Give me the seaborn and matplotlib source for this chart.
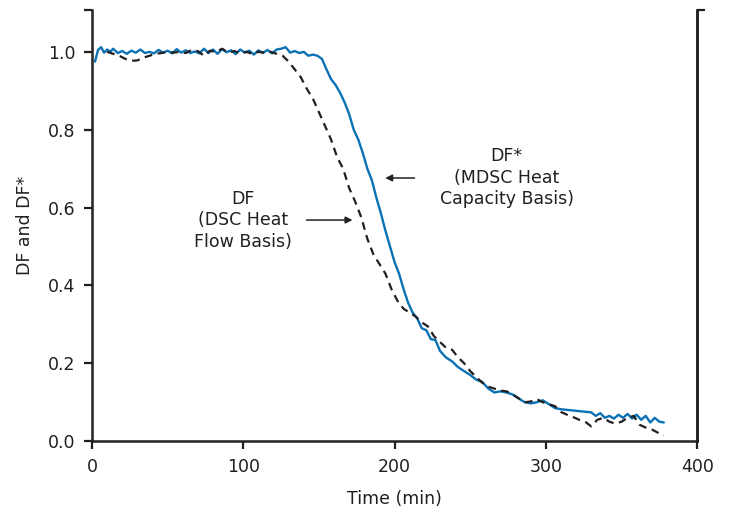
import matplotlib
matplotlib.use("Agg")
import matplotlib.pyplot as plt
import numpy as np
import pandas as pd
import seaborn as sns

### Data
# DF* (MDSC heat capacity basis), blue solid
t_mdsc = [2, 4, 6, 8, 10, 12, 14, 17, 20, 23, 26, 29, 32, 35, 38, 41, 44, 47, 50, 53,
          56, 59, 62, 65, 68, 71, 74, 77, 80, 83, 86, 89, 92, 95, 98, 101, 104, 107, 110, 113,
          116, 119, 122, 125, 128, 131, 134, 137, 140, 143, 146, 149, 152, 155, 158, 161, 164, 167, 170, 173,
          176, 179, 182, 185, 188, 191, 194, 197, 200, 203, 206, 209, 212, 215, 218, 221, 224, 227, 230, 234,
          238, 242, 246, 250, 254, 258, 262, 266, 270, 274, 278, 282, 286, 290, 294, 298, 302, 306, 310, 315,
          320, 325, 330, 333, 336, 339, 342, 345, 348, 351, 354, 357, 360, 363, 366, 369, 372, 375, 378]
df_mdsc = [0.975, 1.005, 1.012, 0.998, 1.006, 1.0, 1.008, 0.997, 1.002, 0.995, 1.003, 0.998, 1.006, 0.997, 1.0, 0.996, 1.005, 0.998, 1.003, 0.996,
           1.007, 0.998, 1.004, 0.997, 1.001, 0.996, 1.008, 0.997, 1.006, 0.995, 1.007, 0.999, 1.004, 0.994, 1.006, 0.998, 1.003, 0.993, 1.004, 0.997,
           1.005, 0.996, 1.006, 1.008, 1.012, 0.998, 1.002, 0.997, 1.0, 0.99, 0.993, 0.99, 0.982, 0.955, 0.93, 0.915, 0.895, 0.87, 0.84, 0.8,
           0.775, 0.74, 0.7, 0.67, 0.625, 0.585, 0.54, 0.5, 0.46, 0.43, 0.39, 0.355, 0.33, 0.315, 0.29, 0.285, 0.262, 0.26, 0.232, 0.215,
           0.205, 0.19, 0.18, 0.17, 0.158, 0.152, 0.135, 0.125, 0.128, 0.125, 0.12, 0.11, 0.1, 0.097, 0.1, 0.105, 0.095, 0.085, 0.082, 0.08,
           0.078, 0.076, 0.074, 0.065, 0.072, 0.06, 0.065, 0.058, 0.068, 0.06, 0.07, 0.058, 0.068, 0.055, 0.065, 0.048, 0.06, 0.05, 0.048]

# DF (DSC heat flow basis), black dashed
t_dsc = [10, 14, 18, 22, 26, 30, 34, 38, 42, 46, 50, 54, 58, 62, 66, 70, 74, 78, 82, 86,
         90, 94, 98, 102, 106, 110, 114, 118, 122, 126, 130, 134, 138, 142, 146, 150, 154, 158, 162, 166,
         170, 174, 178, 182, 186, 190, 194, 198, 202, 206, 210, 214, 218, 222, 226, 230, 234, 238, 242, 246,
         250, 254, 258, 262, 266, 270, 274, 278, 282, 286, 290, 294, 298, 302, 306, 310, 314, 318, 322, 326,
         330, 334, 338, 342, 346, 350, 354, 358, 362, 366, 370, 374, 378]
df_dsc = [1.0, 0.995, 0.99, 0.982, 0.977, 0.978, 0.985, 0.99, 0.995, 0.997, 1.0, 0.998, 1.0, 0.997, 1.005, 1.002, 0.99, 1.003, 1.0, 1.008,
          0.998, 1.002, 0.997, 1.0, 0.995, 1.0, 0.998, 1.0, 0.995, 0.99, 0.975, 0.955, 0.935, 0.905, 0.88, 0.845, 0.81, 0.775, 0.73, 0.7,
          0.65, 0.615, 0.575, 0.52, 0.48, 0.455, 0.43, 0.39, 0.36, 0.34, 0.33, 0.32, 0.305, 0.295, 0.27, 0.255, 0.24, 0.235, 0.215, 0.2,
          0.18, 0.165, 0.15, 0.14, 0.135, 0.13, 0.128, 0.12, 0.11, 0.1, 0.102, 0.108, 0.1, 0.095, 0.09, 0.075, 0.068, 0.062, 0.055, 0.05,
          0.038, 0.055, 0.06, 0.05, 0.045, 0.05, 0.06, 0.065, 0.042, 0.035, 0.03, 0.022, 0.015]

x_ticks = [0, 100, 200, 300, 400]
y_ticks = [0.0, 0.2, 0.4, 0.6, 0.8, 1.0]

### Style
sns.set_style("ticks")
plt.rcParams['font.family'] = ['DejaVu Sans']
plt.rcParams['font.size'] = 12.5
ink = '#231f20'

fig = plt.figure(figsize=(7.3, 5.16), dpi=100)
ax = fig.add_axes([0.126, 0.145, 0.829, 0.836])

mdsc = pd.DataFrame({'t': t_mdsc, 'DF': df_mdsc})
dsc = pd.DataFrame({'t': t_dsc, 'DF': df_dsc})
sns.lineplot(data=mdsc, x='t', y='DF', ax=ax, color='#0a72b4', linewidth=1.7)
sns.lineplot(data=dsc, x='t', y='DF', ax=ax, color=ink, linewidth=1.6, linestyle=(0, (3.5, 2.5)))

ytop = 1.108
ax.set_xlim(0, 400)
ax.set_ylim(0, ytop)
ax.set_xticks(x_ticks)
ax.set_yticks(y_ticks + [ytop])
ax.set_yticklabels(['%.1f' % v for v in y_ticks] + [''])
ax.set_xlabel('Time (min)', color=ink, labelpad=10)
ax.set_ylabel('DF and DF*', color=ink, labelpad=10)

for side in ['left', 'bottom', 'right']:
    ax.spines[side].set_linewidth(1.8)
    ax.spines[side].set_color(ink)
ax.spines['top'].set_visible(False)
ax.tick_params(direction='out', length=6, width=1.6, colors=ink, labelcolor=ink, labelsize=12.5, pad=6)

# right axis: spine with a single tick at the top
ax2 = ax.twinx()
ax2.set_ylim(0, ytop)
ax2.set_yticks([ytop])
ax2.set_yticklabels([''])
ax2.spines['top'].set_visible(False)
ax2.spines['right'].set_linewidth(1.8)
ax2.spines['right'].set_color(ink)
ax2.tick_params(direction='out', length=6, width=1.6, colors=ink)

# annotations
ax.annotate('', xy=(192, 0.676), xytext=(215, 0.676),
            arrowprops=dict(arrowstyle='-|>', color=ink, lw=1.1, mutation_scale=10))
ax.text(274, 0.676, 'DF*\n(MDSC Heat\nCapacity Basis)', ha='center', va='center',
        color=ink, fontsize=12.5, linespacing=1.25)
ax.annotate('', xy=(174, 0.568), xytext=(140, 0.568),
            arrowprops=dict(arrowstyle='-|>', color=ink, lw=1.1, mutation_scale=10))
ax.text(100, 0.568, 'DF\n(DSC Heat\nFlow Basis)', ha='center', va='center',
        color=ink, fontsize=12.5, linespacing=1.25)

plt.savefig('out.png', dpi=100)
